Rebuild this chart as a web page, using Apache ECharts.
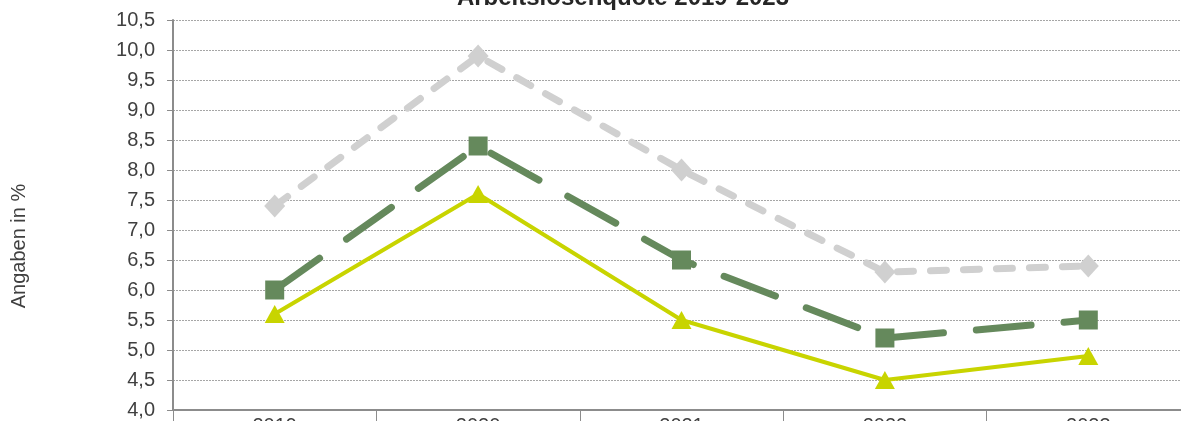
<!DOCTYPE html>
<html><head><meta charset="utf-8">
<script src="https://cdn.jsdelivr.net/npm/echarts@6/dist/echarts.min.js"></script>
<style>html,body{margin:0;padding:0;background:#fff}#c{width:1181px;height:421px}</style>
</head><body><div id="c"></div>
<script>
const categories = ['2019', '2020', '2021', '2022', '2023'];
const seriesGray = [7.4, 9.9, 8.0, 6.3, 6.4];
const seriesGreen = [6.0, 8.4, 6.5, 5.2, 5.5];
const seriesYellow = [5.6, 7.6, 5.5, 4.5, 4.9];
const titleText = 'Arbeitslosenquote 2019-2023';
const yName = 'Angaben in %';

const chart = echarts.init(document.getElementById('c'), null, {renderer: 'canvas'});
const font = 'Liberation Sans, Arial, sans-serif';
chart.setOption({
  animation: false,
  title: {
    text: titleText, left: 618, top: -19, textAlign: 'center',
    textStyle: {fontFamily: font, fontSize: 24, fontWeight: 'bold', color: '#262626', lineHeight: 24}
  },
  graphic: [{
    type: 'text', x: 19, y: 246, rotation: Math.PI / 2,
    style: {text: yName, fontFamily: font, fontSize: 20, fill: '#404040', align: 'center', verticalAlign: 'middle'}
  }],
  grid: {left: 173, right: -9, top: 20, bottom: 11, containLabel: false, outerBoundsMode: 'none'},
  xAxis: {
    type: 'category', data: categories, boundaryGap: true,
    axisLine: {lineStyle: {color: '#8c8c8c', width: 2}},
    axisTick: {show: true, length: 14, lineStyle: {color: '#8c8c8c', width: 1}},
    axisLabel: {fontFamily: font, fontSize: 20, color: '#404040', margin: 6},
    splitLine: {show: false}
  },
  yAxis: {
    type: 'value', min: 4, max: 10.5, interval: 0.5,
    axisLine: {show: true, lineStyle: {color: '#8c8c8c', width: 2}},
    axisTick: {show: true, length: 6, lineStyle: {color: '#8c8c8c'}},
    axisLabel: {fontFamily: font, fontSize: 20, color: '#404040', margin: 18,
      formatter: v => v.toFixed(1).replace('.', ',')},
    splitLine: {show: true, lineStyle: {color: '#a6a6a6', type: [2, 1], width: 1}}
  },
  series: [
    {type: 'line', data: seriesGray, symbol: 'diamond', symbolSize: [21, 23],
      itemStyle: {color: '#d0d0d0'},
      lineStyle: {color: '#d0d0d0', width: 7, type: [16, 17], cap: 'round'}, z: 2},
    {type: 'line', data: seriesGreen, symbol: 'rect', symbolSize: 19,
      itemStyle: {color: '#65895c'},
      lineStyle: {color: '#65895c', width: 7, type: [55, 33], cap: 'round'}, z: 3},
    {type: 'line', data: seriesYellow, symbol: 'triangle', symbolSize: [20, 18],
      itemStyle: {color: '#c8d400'},
      lineStyle: {color: '#c8d400', width: 4}, z: 4}
  ]
});
</script></body></html>
